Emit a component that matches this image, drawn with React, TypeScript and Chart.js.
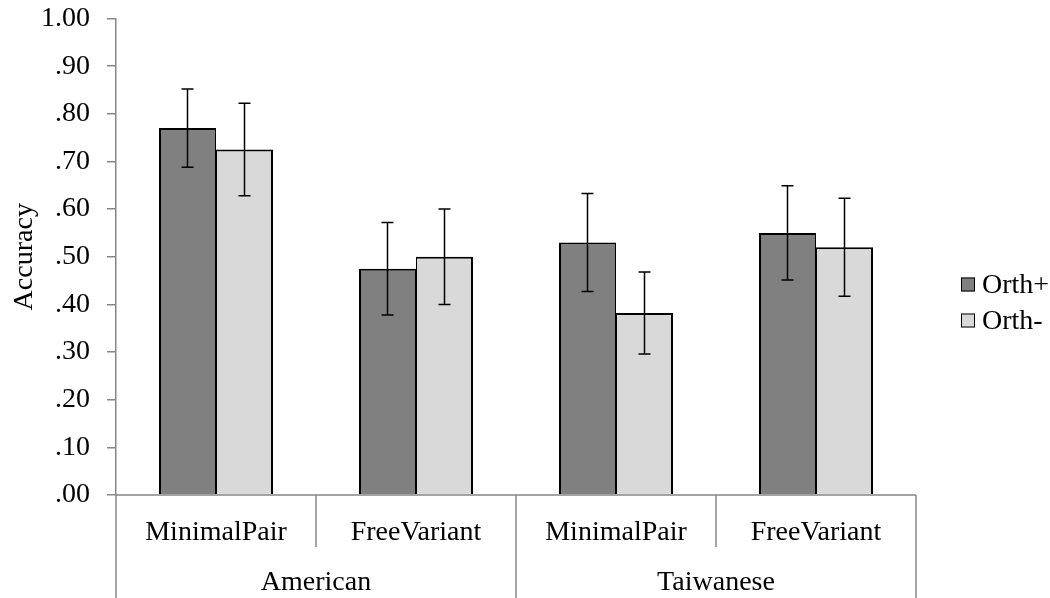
import React, { useEffect, useRef } from 'react';
import { Chart, registerables } from 'chart.js';

Chart.register(...registerables);

// Data
const groups = ['American', 'Taiwanese'];
const conditions = ['MinimalPair', 'FreeVariant', 'MinimalPair', 'FreeVariant'];
const seriesNames = ['Orth+', 'Orth-'];
const orthPlus = [0.77, 0.475, 0.53, 0.55];
const orthPlusErr = [0.082, 0.097, 0.103, 0.099];
const orthMinus = [0.725, 0.5, 0.382, 0.52];
const orthMinusErr = [0.097, 0.1, 0.086, 0.103];
const yTickLabels = ['.00', '.10', '.20', '.30', '.40', '.50', '.60', '.70', '.80', '.90', '1.00'];

const FONT = "'Liberation Serif', 'Times New Roman', serif";
const FONT_SIZE = 28;
const AXIS_GRAY = '#868686';
const DARK = '#808080';
const LIGHT = '#d9d9d9';

// Vertical error bars with caps, centred on each bar
const errorBarPlugin = {
  id: 'errorBars',
  afterDatasetsDraw(chart: any) {
    const { ctx } = chart;
    const yScale = chart.scales.y;
    ctx.save();
    ctx.strokeStyle = '#000';
    ctx.lineWidth = 1.5;
    chart.data.datasets.forEach((ds: any, i: number) => {
      const meta = chart.getDatasetMeta(i);
      meta.data.forEach((bar: any, j: number) => {
        const v = ds.data[j];
        const e = ds.errors[j];
        const x = bar.x;
        const top = yScale.getPixelForValue(v + e);
        const bot = yScale.getPixelForValue(v - e);
        ctx.beginPath();
        ctx.moveTo(x, top);
        ctx.lineTo(x, bot);
        ctx.moveTo(x - 6, top);
        ctx.lineTo(x + 6, top);
        ctx.moveTo(x - 6, bot);
        ctx.lineTo(x + 6, bot);
        ctx.stroke();
      });
    });
    ctx.restore();
  },
};

// Two-level category axis: condition labels above, group labels below
const groupedAxisPlugin = {
  id: 'groupedAxis',
  afterDraw(chart: any) {
    const { ctx, chartArea } = chart;
    const { left, right, bottom } = chartArea;
    const xs = chart.scales.x;
    const H = chart.height;
    const n = conditions.length;
    const per = n / groups.length;
    const w = (right - left) / n;

    ctx.save();
    ctx.strokeStyle = AXIS_GRAY;
    ctx.lineWidth = 1.5;
    ctx.beginPath();
    ctx.moveTo(left, bottom);
    ctx.lineTo(right, bottom);
    for (let k = 0; k <= n; k++) {
      const x = left + k * w;
      const isGroupEdge = k % per === 0;
      ctx.moveTo(x, bottom);
      ctx.lineTo(x, isGroupEdge ? H : bottom + 52);
    }
    ctx.stroke();

    ctx.fillStyle = '#000';
    ctx.font = `${FONT_SIZE}px ${FONT}`;
    ctx.textAlign = 'center';
    ctx.textBaseline = 'alphabetic';
    conditions.forEach((c, j) => {
      ctx.fillText(c, xs.getPixelForValue(j), bottom + 44.5);
    });
    groups.forEach((g, k) => {
      const a = xs.getPixelForValue(k * per);
      const b = xs.getPixelForValue(k * per + per - 1);
      ctx.fillText(g, (a + b) / 2, bottom + 94.5);
    });
    ctx.restore();
  },
};

// Legend at the right with small outlined squares
const sideLegendPlugin = {
  id: 'sideLegend',
  afterDraw(chart: any) {
    const { ctx, chartArea } = chart;
    const x0 = chartArea.right + 45;
    const rowGap = 36;
    const firstCy = chart.height / 2 + 3.5 - rowGap / 2;
    ctx.save();
    ctx.font = `${FONT_SIZE}px ${FONT}`;
    ctx.textAlign = 'left';
    ctx.textBaseline = 'alphabetic';
    chart.data.datasets.forEach((ds: any, i: number) => {
      const cy = firstCy + i * rowGap;
      ctx.fillStyle = ds.backgroundColor;
      ctx.fillRect(x0, cy - 7, 14, 14);
      ctx.strokeStyle = '#000';
      ctx.lineWidth = 1;
      ctx.strokeRect(x0 + 0.5, cy - 6.5, 13, 13);
      ctx.fillStyle = '#000';
      ctx.fillText(ds.label, x0 + 21, cy + 8.5);
    });
    ctx.restore();
  },
};

export default function App() {
  const canvasRef = useRef<HTMLCanvasElement | null>(null);

  useEffect(() => {
    const canvas = canvasRef.current;
    if (!canvas) return;
    const chart = new Chart(canvas, {
      type: 'bar',
      data: {
        labels: conditions.map((c, j) => `${groups[Math.floor(j / 2)]} ${c}`),
        datasets: [
          {
            label: seriesNames[0],
            data: orthPlus,
            errors: orthPlusErr,
            backgroundColor: DARK,
            borderColor: '#000',
            borderWidth: { top: 2, left: 2, right: 1, bottom: 0 },
            borderSkipped: false,
            categoryPercentage: 0.57,
            barPercentage: 1.0,
          } as any,
          {
            label: seriesNames[1],
            data: orthMinus,
            errors: orthMinusErr,
            backgroundColor: LIGHT,
            borderColor: '#000',
            borderWidth: { top: 2, left: 1, right: 2, bottom: 0 },
            borderSkipped: false,
            categoryPercentage: 0.57,
            barPercentage: 1.0,
          } as any,
        ],
      },
      options: {
        responsive: false,
        devicePixelRatio: 1,
        animation: false,
        layout: { padding: { top: 18.5, right: 134, bottom: 0, left: 0 } },
        plugins: {
          legend: { display: false },
          tooltip: { enabled: false },
        },
        scales: {
          x: {
            afterFit(scale: any) {
              scale.height = 103;
              scale.paddingLeft = 0;
              scale.paddingRight = 0;
            },
            ticks: { display: false },
            grid: { display: false, drawTicks: false },
            border: { display: false },
          },
          y: {
            min: 0,
            max: 1,
            afterFit(scale: any) {
              scale.width = 116;
              scale.paddingTop = 0;
              scale.paddingBottom = 0;
            },
            ticks: {
              stepSize: 0.1,
              padding: 17,
              color: '#000',
              font: { family: FONT, size: FONT_SIZE },
              callback: (_v: any, i: number) => yTickLabels[i],
            },
            grid: {
              drawOnChartArea: false,
              drawTicks: true,
              tickLength: 9,
              color: AXIS_GRAY,
              lineWidth: 1.5,
            },
            border: { display: true, color: AXIS_GRAY, width: 1.5 },
            title: {
              display: true,
              text: 'Accuracy',
              color: '#000',
              font: { family: FONT, size: FONT_SIZE, lineHeight: 1.2 },
              padding: { top: 8, bottom: 0 },
            },
          },
        },
      } as any,
      plugins: [errorBarPlugin, groupedAxisPlugin, sideLegendPlugin],
    });
    return () => chart.destroy();
  }, []);

  return (
    <div style={{ position: 'absolute', left: 0, top: 0, width: 1050, height: 598, background: '#fff' }}>
      <canvas ref={canvasRef} width={1050} height={598} style={{ display: 'block' }} />
    </div>
  );
}
